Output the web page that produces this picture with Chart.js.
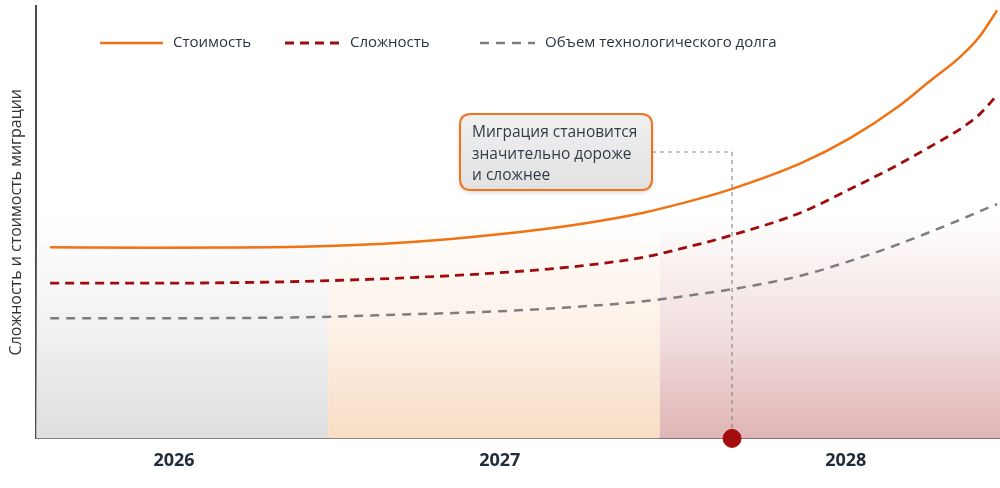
<!DOCTYPE html>
<html>
<head>
<meta charset="utf-8">
<script src="https://cdn.jsdelivr.net/npm/chart.js@4"></script>
<style>
  html, body { margin: 0; padding: 0; background: #fff; }
  #wrap { width: 1000px; height: 488px; }
</style>
</head>
<body>
<div id="wrap"><canvas id="chart" width="1000" height="488"></canvas></div>
<script>
// timeline positions (0..100 across the plot)
const timeX = [1.45, 12.0, 27.5, 39.0, 48.0, 56.5, 63.0, 68.9, 72.2, 79.3, 84.4, 89.6, 92.7, 95.9, 97.9, 99.7];

// series values
const cost = [44.2, 44.1, 44.3, 45.4, 47.2, 49.6, 52.2, 55.5, 57.7, 63.6, 69.4, 77.0, 82.6, 88.3, 93.0, 99.0];
const complexity = [35.9, 35.9, 36.3, 37.2, 38.3, 39.9, 41.9, 45.0, 47.0, 52.2, 57.6, 63.5, 67.4, 71.6, 75.0, 79.4];
const techDebt = [27.8, 27.8, 28.0, 28.7, 29.4, 30.5, 31.7, 33.4, 34.5, 37.6, 41.0, 45.0, 47.7, 50.6, 52.5, 54.2];

// year periods on the timeline
const periods = ['2026', '2027', '2028'];
const periodStart = [0, 30.3, 64.7];
const periodEnd = [30.3, 64.7, 100];
const periodLabelAt = [14.3, 48.1, 84.0];

// the turning point
const markerX = 72.2;
const noteLines = ['Миграция становится', 'значительно дороже', 'и сложнее'];

const FONT = "'Open Sans', 'Noto Sans', sans-serif";

function pts(ys) {
  return ys.map((y, i) => ({ x: timeX[i], y: y }));
}

const bandColors = ['rgba(222,222,222,', 'rgba(248,221,196,', 'rgba(224,180,180,'];

const bandsPlugin = {
  id: 'bands',
  beforeDatasetsDraw(chart) {
    const { ctx, chartArea, scales } = chart;
    const x = scales.x, y = scales.y;
    const h = 225;
    ctx.save();
    periods.forEach((p, i) => {
      const x0 = x.getPixelForValue(periodStart[i]);
      const x1 = x.getPixelForValue(periodEnd[i]);
      const g = ctx.createLinearGradient(0, chartArea.bottom, 0, chartArea.bottom - h);
      g.addColorStop(0, bandColors[i] + '1)');
      g.addColorStop(0.45, bandColors[i] + '0.45)');
      g.addColorStop(1, bandColors[i] + '0)');
      ctx.fillStyle = g;
      ctx.fillRect(x0, chartArea.bottom - h, x1 - x0, h);
    });
    // connector from the note to the marker
    const mx = x.getPixelForValue(markerX);
    ctx.strokeStyle = '#8a8a8a';
    ctx.lineWidth = 1.2;
    ctx.setLineDash([4, 4]);
    ctx.beginPath();
    ctx.moveTo(652, 152);
    ctx.lineTo(mx, 152);
    ctx.lineTo(mx, y.getPixelForValue(0));
    ctx.stroke();
    ctx.restore();
  }
};

function roundRect(ctx, x, y, w, h, r) {
  ctx.beginPath();
  ctx.moveTo(x + r, y);
  ctx.lineTo(x + w - r, y);
  ctx.quadraticCurveTo(x + w, y, x + w, y + r);
  ctx.lineTo(x + w, y + h - r);
  ctx.quadraticCurveTo(x + w, y + h, x + w - r, y + h);
  ctx.lineTo(x + r, y + h);
  ctx.quadraticCurveTo(x, y + h, x, y + h - r);
  ctx.lineTo(x, y + r);
  ctx.quadraticCurveTo(x, y, x + r, y);
  ctx.closePath();
}

const overlayPlugin = {
  id: 'overlay',
  afterDraw(chart) {
    const { ctx } = chart;
    ctx.save();
    // legend inside the plot
    const legendX = [100, 285, 480];
    const legendW = [63, 55, 55];
    chart.data.datasets.slice(0, 3).forEach((ds, i) => {
      ctx.strokeStyle = ds.borderColor;
      ctx.lineWidth = ds.borderWidth;
      ctx.setLineDash(ds.borderDash || []);
      ctx.beginPath();
      ctx.moveTo(legendX[i], 43);
      ctx.lineTo(legendX[i] + legendW[i], 43);
      ctx.stroke();
      ctx.setLineDash([]);
      ctx.fillStyle = '#2a3444';
      ctx.font = '15px ' + FONT;
      ctx.textBaseline = 'middle';
      ctx.fillText(ds.label, legendX[i] + legendW[i] + 10, 43);
    });

    // note box
    ctx.shadowColor = 'rgba(0,0,0,0.18)';
    ctx.shadowBlur = 5;
    ctx.shadowOffsetY = 2;
    roundRect(ctx, 460, 114, 192, 76, 11);
    const g = ctx.createLinearGradient(0, 114, 0, 190);
    g.addColorStop(0, '#f0f0f0');
    g.addColorStop(1, '#e2e2e2');
    ctx.fillStyle = g;
    ctx.fill();
    ctx.shadowColor = 'transparent';
    ctx.strokeStyle = '#ef7420';
    ctx.lineWidth = 2;
    ctx.stroke();
    ctx.fillStyle = '#333c48';
    ctx.font = '15.5px ' + FONT;
    ctx.textBaseline = 'middle';
    noteLines.forEach((t, i) => ctx.fillText(t, 472, 133 + i * 21.5));
    ctx.restore();
  }
};

new Chart(document.getElementById('chart'), {
  type: 'line',
  data: {
    datasets: [
      {
        label: 'Стоимость',
        data: pts(cost),
        borderColor: '#f07212',
        borderWidth: 2.5,
        pointRadius: 0,
        cubicInterpolationMode: 'monotone'
      },
      {
        label: 'Сложность',
        data: pts(complexity),
        borderColor: '#a00c0c',
        borderWidth: 2.8,
        borderDash: [9, 6],
        pointRadius: 0,
        cubicInterpolationMode: 'monotone'
      },
      {
        label: 'Объем технологического долга',
        data: pts(techDebt),
        borderColor: '#7e7e7e',
        borderWidth: 2.5,
        borderDash: [9, 7],
        pointRadius: 0,
        cubicInterpolationMode: 'monotone'
      },
      {
        label: 'marker',
        data: [{ x: markerX, y: 0 }],
        showLine: false,
        pointRadius: 9,
        pointBackgroundColor: '#a30d0d',
        pointBorderColor: '#a30d0d',
        clip: false
      }
    ]
  },
  options: {
    responsive: false,
    animation: false,
    devicePixelRatio: 1,
    layout: { autoPadding: false, padding: { left: 3, top: 6, right: 0, bottom: 4 } },
    plugins: {
      legend: { display: false },
      tooltip: { enabled: false }
    },
    scales: {
      x: {
        type: 'linear',
        min: 0,
        max: 100,
        grid: { display: false, drawTicks: false },
        border: { display: true, color: '#4a4a4a', width: 2 },
        afterBuildTicks: (s) => { s.ticks = periodLabelAt.map(v => ({ value: v })); },
        ticks: {
          padding: 12,
          autoSkip: false,
          maxRotation: 0,
          color: '#222d3c',
          font: { family: FONT, size: 18, weight: 'bold' },
          callback: (v) => periods[periodLabelAt.indexOf(v)]
        }
      },
      y: {
        min: 0,
        max: 100,
        grid: { display: false, drawTicks: false },
        border: { display: true, color: '#4a4a4a', width: 2 },
        ticks: { display: false },
        title: {
          display: true,
          text: 'Сложность и стоимость миграции',
          color: '#333',
          font: { family: FONT, size: 16 },
          padding: { top: 4, bottom: 10 }
        }
      }
    }
  },
  plugins: [bandsPlugin, overlayPlugin]
});
</script>
</body>
</html>
